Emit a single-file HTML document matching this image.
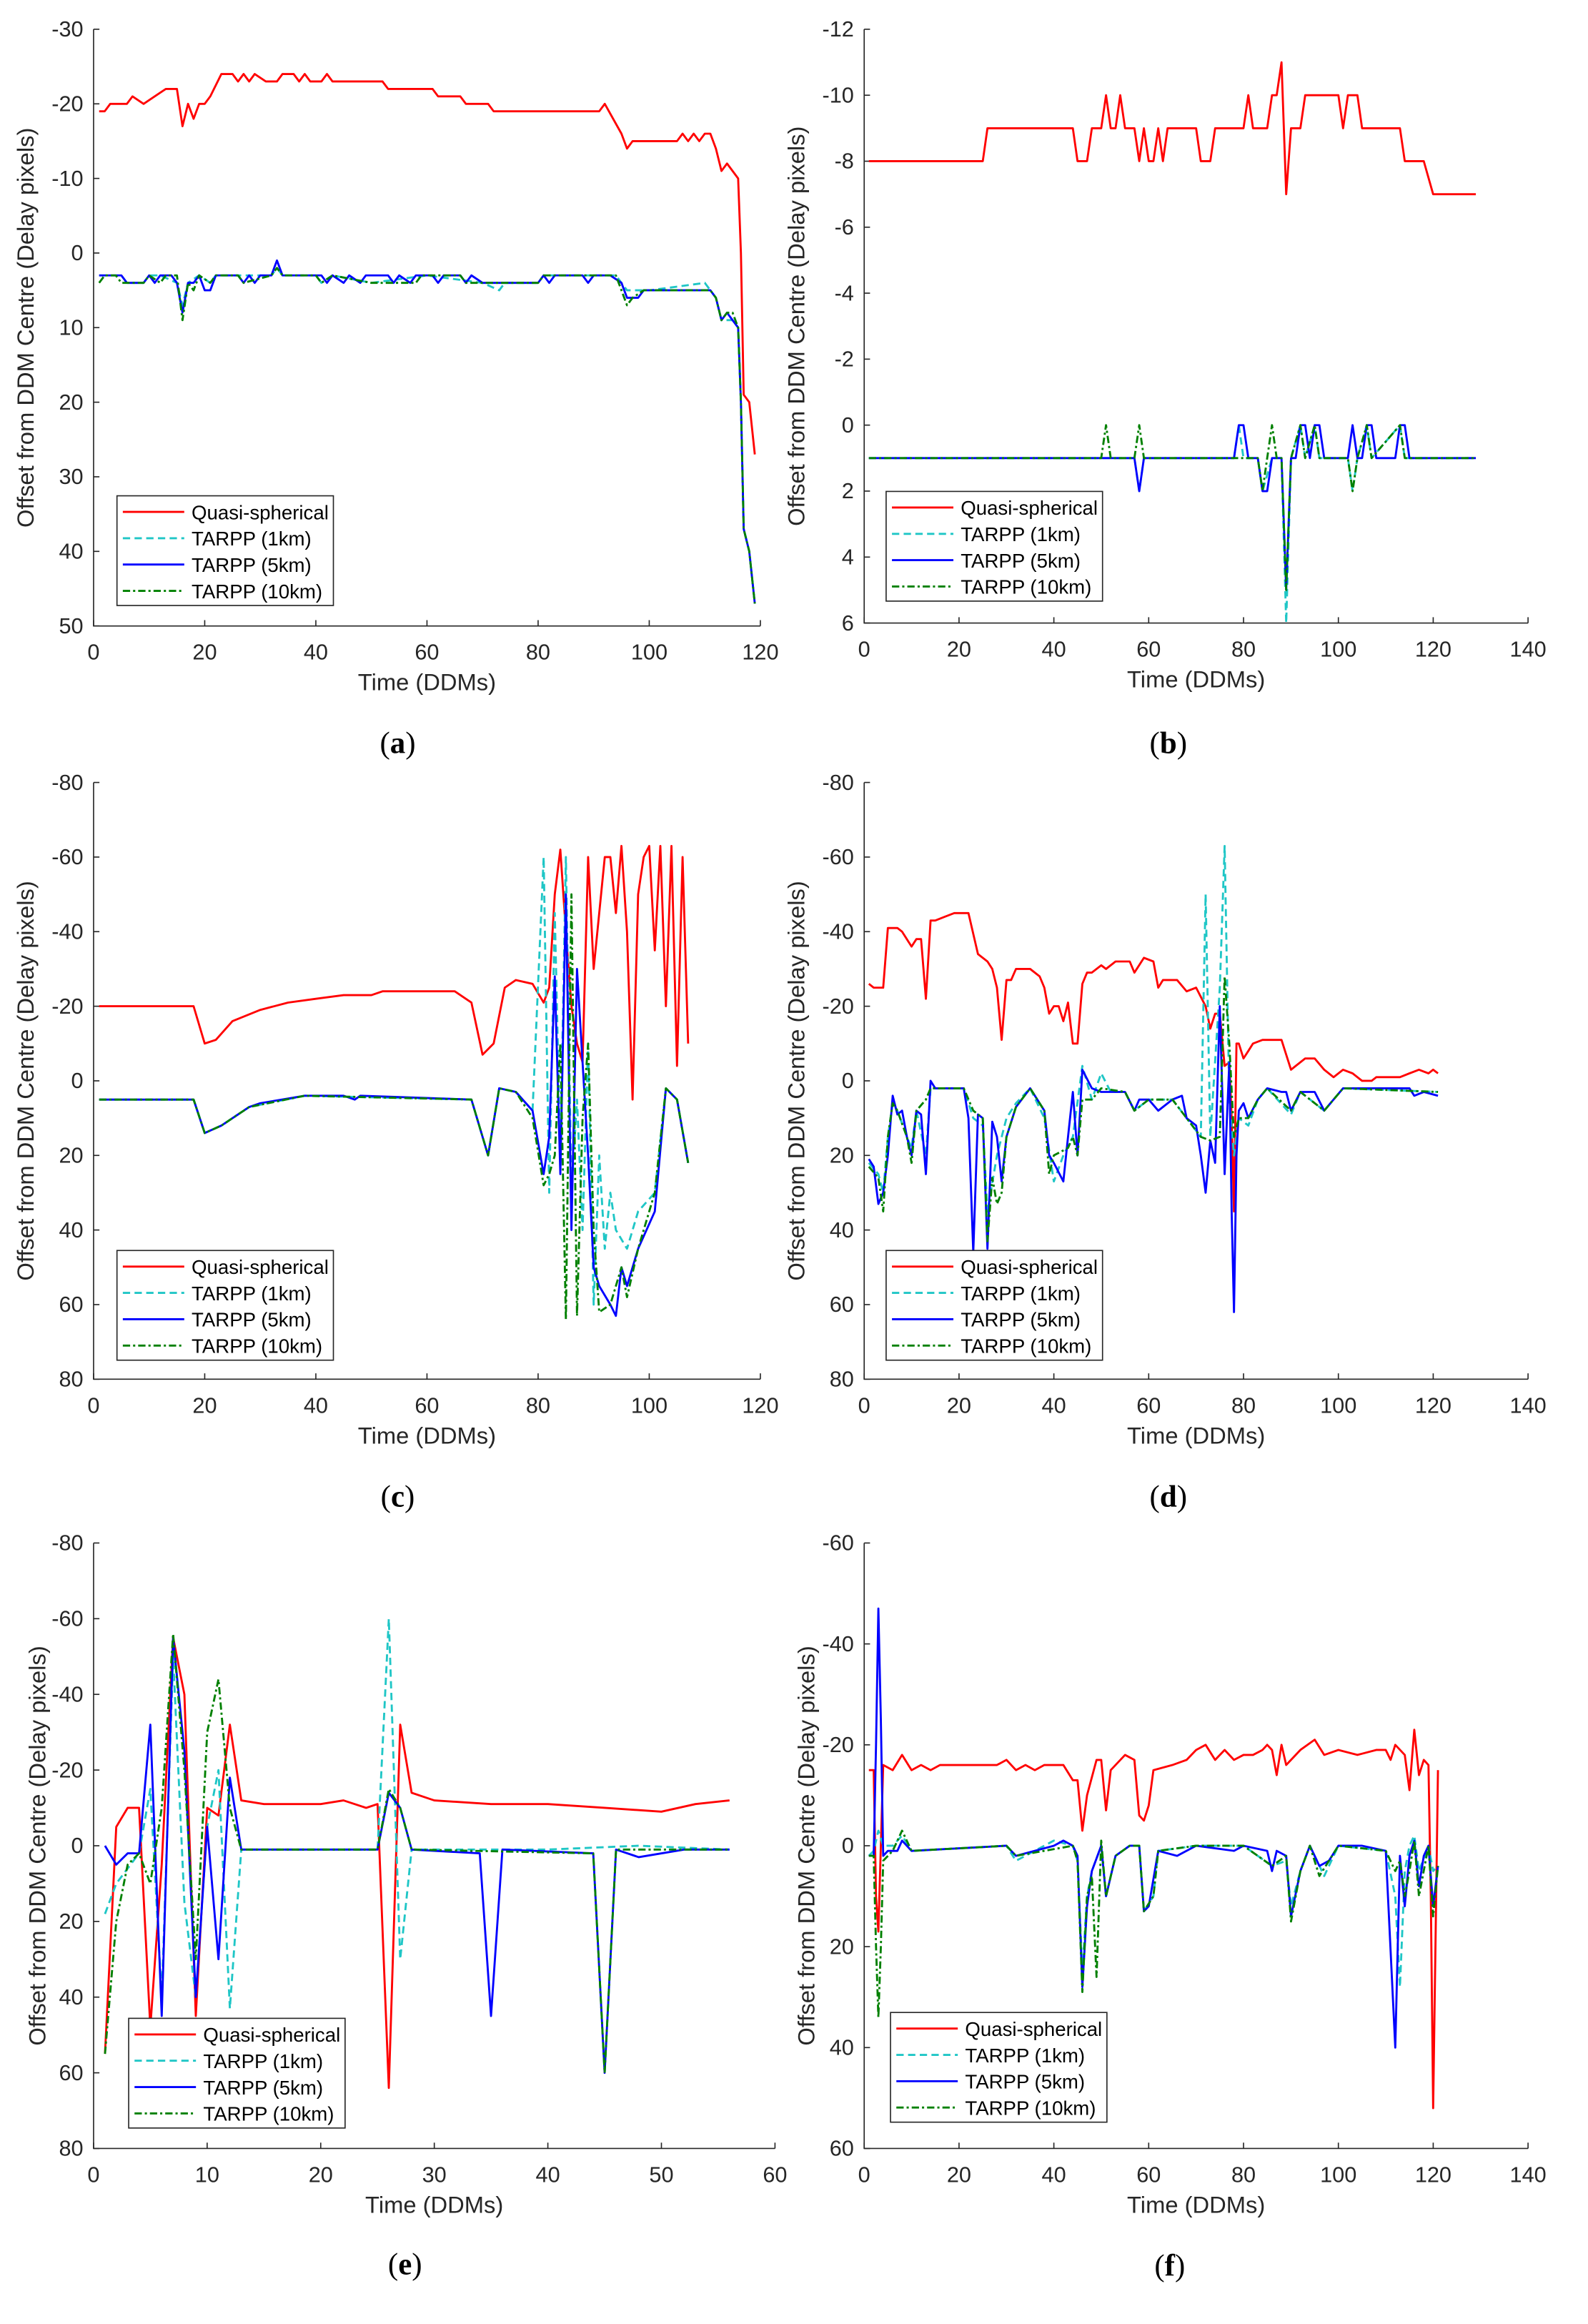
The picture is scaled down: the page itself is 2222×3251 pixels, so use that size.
<!DOCTYPE html>
<html><head><meta charset="utf-8"><style>
html,body{margin:0;padding:0;background:#fff;}
svg{display:block;}
</style></head><body>
<svg id="s" xmlns="http://www.w3.org/2000/svg" width="2222" height="3251" viewBox="0 0 1086 1589" preserveAspectRatio="none"></svg>
<script>
const S=document.getElementById('s');
let H='';
const P=[
{x0:64,x1:520,y0:20,y1:428,xr:[0,120],yr:[-30,50],xs:20,ys:10,yl:22,cap:'a',cx:272,cy:508,lg:[80,339],
R:[[1,-19],[2,-19],[3,-20],[6,-20],[7,-21],[9,-20],[11,-21],[13,-22],[15,-22],[16,-17],[17,-20],[18,-18],[19,-20],[20,-20],[21,-21],[23,-24],[25,-24],[26,-23],[27,-24],[28,-23],[29,-24],[31,-23],[33,-23],[34,-24],[36,-24],[37,-23],[38,-24],[39,-23],[41,-23],[42,-24],[43,-23],[52,-23],[53,-22],[61,-22],[62,-21],[66,-21],[67,-20],[71,-20],[72,-19],[91,-19],[92,-20],[95,-16],[96,-14],[97,-15],[105,-15],[106,-16],[107,-15],[108,-16],[109,-15],[110,-16],[111,-16],[112,-14],[113,-11],[114,-12],[116,-10],[116.5,0],[117,19],[118,20],[119,27]],
B:[[1,3],[5,3],[6,4],[9,4],[10,3],[11,4],[12,3],[14,3],[15,4],[16,8],[17,4],[18,4],[19,3],[20,5],[21,5],[22,3],[26,3],[27,4],[28,3],[29,4],[30,3],[32,3],[33,1],[34,3],[41,3],[42,4],[43,3],[45,4],[46,3],[48,4],[49,3],[53,3],[54,4],[55,3],[57,4],[58,3],[61,3],[62,4],[63,3],[66,3],[67,4],[68,3],[70,4],[80,4],[81,3],[82,4],[83,3],[88,3],[89,4],[90,3],[93,3],[95,4],[96,6],[98,6],[99,5],[111,5],[112,6],[113,9],[114,8],[115,9],[116,10],[116.5,20],[117,37],[118,40],[119,47]],
C:[[1,3],[5,3],[6,4],[9,4],[10,3],[12,3],[15,4],[16,7],[17,4],[19,3],[21,4],[22,3],[32,3],[33,2],[34,3],[40,3],[41,4],[43,3],[50,4],[60,3],[70,4],[73,5],[74,4],[80,4],[81,3],[94,3],[96,5],[98,5],[100,5],[105,4.5],[110,4],[111,5],[112,6],[113,9],[115,9],[116,10],[116.5,20],[117,37],[118,40],[119,47]],
G:[[1,4],[2,3],[4,3],[5,4],[9,4],[10,3],[12,4],[13,3],[15,3],[16,9],[17,4],[18,5],[19,3],[21,4],[22,3],[26,3],[27,4],[32,3],[33,2],[34,3],[40,3],[41,4],[43,3],[50,4],[58,4],[59,3],[66,3],[67,4],[70,4],[80,4],[81,3],[94,3],[96,7],[97,6],[99,5],[111,5],[112,6],[113,9],[114,8],[115,8],[116,10],[116.5,20],[117,37],[118,40],[119,47]]},
{x0:591,x1:1045,y0:20,y1:426,xr:[0,140],yr:[-12,6],xs:20,ys:2,yl:549,cap:'b',cx:799,cy:508,lg:[606,336],
R:[[1,-8],[25,-8],[26,-9],[44,-9],[45,-8],[47,-8],[48,-9],[50,-9],[51,-10],[52,-9],[53,-9],[54,-10],[55,-9],[57,-9],[58,-8],[59,-9],[60,-8],[61,-8],[62,-9],[63,-8],[64,-9],[70,-9],[71,-8],[73,-8],[74,-9],[80,-9],[81,-10],[82,-9],[85,-9],[86,-10],[87,-10],[88,-11],[89,-7],[90,-9],[92,-9],[93,-10],[100,-10],[101,-9],[102,-10],[104,-10],[105,-9],[108,-9],[113,-9],[114,-8],[118,-8],[120,-7],[129,-7]],
B:[[1,1],[57,1],[58,2],[59,1],[78,1],[79,0],[80,0],[81,1],[83,1],[84,2],[85,2],[86,1],[88,1],[89,5],[90,1],[91,1],[92,0],[93,0],[94,1],[95,0],[96,0],[97,1],[102,1],[103,0],[104,1],[105,1],[106,0],[107,0],[108,1],[112,1],[113,0],[114,0],[115,1],[129,1]],
C:[[1,1],[57,1],[58,2],[59,1],[78,1],[79,0],[80,1],[83,1],[84,2],[86,1],[88,1],[89,6],[90,1],[92,0],[93,1],[95,0],[96,1],[102,1],[103,2],[104,1],[106,0],[107,1],[113,0],[114,1],[129,1]],
G:[[1,1],[50,1],[51,0],[52,1],[57,1],[58,0],[59,1],[80,1],[83,1],[84,2],[85,1],[86,0],[87,1],[88,1],[89,5],[90,1],[92,0],[93,1],[95,0],[96,1],[102,1],[103,2],[104,1],[106,0],[107,1],[113,0],[114,1],[129,1]]},
{x0:64,x1:520,y0:535,y1:943,xr:[0,120],yr:[-80,80],xs:20,ys:20,yl:22,cap:'c',cx:272,cy:1023,lg:[80,855],
R:[[1,-20],[18,-20],[20,-10],[22,-11],[25,-16],[30,-19],[35,-21],[40,-22],[45,-23],[50,-23],[52,-24],[65,-24],[68,-21],[70,-7],[72,-10],[74,-25],[76,-27],[79,-26],[81,-21],[82,-25],[83,-50],[84,-62],[85,-40],[86,-20],[87,-10],[88,-5],[89,-60],[90,-30],[91,-45],[92,-60],[93,-60],[94,-45],[95,-63],[96,-40],[97,5],[98,-50],[99,-60],[100,-63],[101,-35],[102,-63],[103,-20],[104,-63],[105,-4],[106,-60],[107,-10]],
B:[[1,5],[18,5],[20,14],[23,12],[28,7],[30,6],[38,4],[45,4],[47,5],[48,4],[68,5],[71,20],[73,2],[76,3],[79,8],[81,25],[82,15],[83,-28],[84,25],[85,-50],[86,40],[87,-30],[88,-5],[89,20],[90,50],[91,55],[93,60],[94,63],[95,50],[96,55],[98,45],[101,35],[103,2],[105,5],[107,22]],
C:[[1,5],[18,5],[20,14],[23,12],[28,7],[38,4],[68,5],[71,20],[73,2],[76,3],[79,8],[81,-60],[82,30],[83,-45],[84,20],[85,-60],[86,30],[87,5],[88,40],[89,-10],[90,60],[91,20],[92,45],[93,30],[94,40],[96,45],[98,35],[101,30],[103,2],[105,5],[107,22]],
G:[[1,5],[18,5],[20,14],[23,12],[28,7],[38,4],[68,5],[71,20],[73,2],[76,3],[79,10],[81,28],[82,25],[83,20],[84,-10],[85,64],[86,-50],[87,63],[88,10],[89,-10],[90,40],[91,62],[93,60],[95,50],[96,58],[98,45],[101,30],[103,2],[105,5],[107,22]]},
{x0:591,x1:1045,y0:535,y1:943,xr:[0,140],yr:[-80,80],xs:20,ys:20,yl:549,cap:'d',cx:799,cy:1023,lg:[606,855],
R:[[1,-26],[2,-25],[4,-25],[5,-41],[7,-41],[8,-40],[10,-36],[11,-38],[12,-38],[13,-22],[14,-43],[15,-43],[17,-44],[19,-45],[22,-45],[24,-34],[26,-32],[27,-30],[28,-25],[29,-11],[30,-27],[31,-27],[32,-30],[35,-30],[37,-28],[38,-25],[39,-18],[40,-20],[41,-20],[42,-16],[43,-21],[44,-10],[45,-10],[46,-26],[47,-29],[48,-29],[50,-31],[51,-30],[53,-32],[56,-32],[57,-29],[59,-33],[61,-32],[62,-25],[63,-27],[66,-27],[68,-24],[70,-25],[72,-20],[73,-14],[74,-18],[75,-18],[76,-4],[77,-5],[77.5,10],[78,35],[78.5,-10],[79,-10],[80,-6],[81,-8],[82,-10],[84,-11],[88,-11],[89,-7],[90,-3],[91,-4],[93,-6],[95,-6],[97,-3],[99,-1],[101,-3],[103,-2],[105,0],[107,0],[108,-1],[113,-1],[115,-2],[117,-3],[119,-2],[120,-3],[121,-2]],
B:[[1,21],[2,23],[3,33],[4,30],[5,20],[6,4],[7,9],[8,8],[9,15],[10,20],[11,8],[12,9],[13,25],[14,0],[15,2],[17,2],[21,2],[22,10],[23,46],[24,9],[25,10],[26,45],[27,11],[28,15],[29,27],[30,15],[32,7],[35,2],[38,8],[39,20],[40,22],[42,27],[43,15],[44,3],[45,20],[46,-3],[48,2],[50,3],[55,3],[57,8],[58,5],[60,5],[62,8],[65,5],[67,4],[68,10],[70,12],[71,20],[72,30],[73,16],[74,22],[75,-20],[76,25],[77,-5],[77.5,35],[78,62],[78.5,20],[79,8],[80,6],[81,10],[83,5],[85,2],[88,3],[89,3],[90,8],[92,3],[95,3],[97,8],[99,5],[101,2],[110,2],[115,2],[116,4],[118,3],[121,4]],
C:[[1,22],[3,25],[4,30],[5,15],[6,6],[7,8],[9,15],[10,18],[11,8],[13,20],[14,2],[17,2],[21,2],[23,10],[25,12],[26,35],[28,20],[30,10],[32,6],[35,2],[38,10],[40,27],[42,20],[44,15],[46,-4],[48,5],[50,-2],[52,3],[55,3],[57,8],[60,5],[65,5],[68,10],[71,15],[72,-50],[73,15],[75,-25],[76,-63],[77,5],[78,20],[79,10],[81,12],[83,5],[85,2],[90,9],[92,3],[97,8],[101,2],[121,3]],
G:[[1,23],[3,26],[4,35],[5,15],[6,6],[7,8],[9,15],[10,22],[11,8],[13,5],[14,2],[17,2],[21,2],[23,8],[25,10],[26,43],[27,26],[28,33],[29,30],[30,15],[32,7],[35,2],[38,8],[39,25],[40,20],[43,18],[44,15],[45,20],[46,5],[48,5],[50,2],[55,3],[57,8],[60,5],[65,5],[68,10],[71,15],[73,16],[75,15],[76,-28],[77,-10],[78,15],[79,10],[81,10],[83,5],[85,2],[90,8],[92,3],[97,8],[101,2],[121,3]]},
{x0:64,x1:530,y0:1055,y1:1469,xr:[0,60],yr:[-80,80],xs:10,ys:20,yl:30,cap:'e',cx:277,cy:1548,lg:[88,1380],
R:[[1,55],[2,-5],[3,-10],[4,-10],[5,48],[6,5],[7,-55],[8,-40],[9,45],[10,-10],[11,-8],[12,-32],[13,-12],[15,-11],[20,-11],[22,-12],[24,-10],[25,-11],[26,64],[27,-32],[28,-14],[30,-12],[35,-11],[40,-11],[45,-10],[50,-9],[53,-11],[56,-12]],
B:[[1,0],[2,5],[3,2],[4,2],[5,-32],[6,45],[7,-55],[8,-25],[9,40],[10,-5],[11,30],[12,-18],[13,1],[25,1],[26,-14],[27,-10],[28,1],[34,2],[35,45],[36,1],[44,2],[45,60],[46,1],[48,3],[52,1],[56,1]],
C:[[1,18],[2,10],[4,2],[5,-15],[6,40],[7,-50],[8,15],[9,40],[10,-5],[11,-20],[12,43],[13,1],[25,1],[26,-60],[27,30],[28,1],[40,1],[48,0],[56,1]],
G:[[1,55],[2,20],[3,5],[4,2],[5,10],[6,-10],[7,-56],[8,-20],[9,30],[10,-30],[11,-44],[12,-10],[13,1],[25,1],[26,-15],[27,-10],[28,1],[44,2],[45,60],[46,1],[56,1]]},
{x0:591,x1:1045,y0:1055,y1:1469,xr:[0,140],yr:[-60,60],xs:20,ys:20,yl:556,cap:'f',cx:800,cy:1549,lg:[609,1376],
R:[[1,-15],[2,-15],[2.5,10],[3,17],[4,-16],[6,-15],[8,-18],[10,-15],[12,-16],[14,-15],[16,-16],[28,-16],[30,-17],[32,-15],[34,-16],[36,-15],[38,-16],[42,-16],[44,-13],[45,-13],[46,-3],[47,-10],[49,-17],[50,-17],[51,-7],[52,-15],[55,-18],[57,-17],[58,-6],[59,-5],[60,-8],[61,-15],[65,-16],[68,-17],[70,-19],[72,-20],[74,-17],[76,-19],[78,-17],[80,-18],[82,-18],[84,-19],[85,-20],[86,-19],[87,-14],[88,-20],[89,-16],[92,-19],[95,-21],[97,-18],[100,-19],[104,-18],[108,-19],[110,-19],[111,-17],[112,-20],[114,-18],[115,-11],[116,-23],[117,-14],[118,-17],[119,-16],[119.5,10],[120,52],[121,-15]],
B:[[1,2],[2,2],[2.5,-20],[3,-47],[3.5,-25],[4,2],[5,1],[7,1],[8,-1],[10,1],[30,0],[32,2],[40,0],[42,-1],[44,0],[45,2],[46,28],[47,12],[48,5],[50,0],[51,10],[53,2],[56,0],[58,0],[59,13],[60,12],[62,1],[66,2],[70,0],[78,1],[80,0],[85,1],[86,5],[87,1],[89,2],[90,14],[92,5],[94,0],[96,4],[98,3],[100,0],[105,0],[110,1],[112,40],[113,2],[114,12],[115,2],[116,-1],[117,8],[118,2],[119,0],[120,12],[121,4]],
C:[[1,2],[2,1],[3,-3],[4,0],[6,0],[8,-2],[10,1],[30,0],[32,3],[40,-1],[44,0],[45,3],[46,25],[47,10],[48,5],[50,0],[51,10],[53,2],[56,0],[58,0],[59,13],[61,10],[62,1],[70,0],[80,0],[86,4],[89,3],[90,12],[92,5],[94,0],[97,6],[100,0],[110,1],[112,10],[113,28],[114,5],[115,0],[116,-2],[117,5],[119,0],[120,5],[121,4]],
G:[[1,2],[2,2],[2.5,20],[3,34],[3.5,20],[4,3],[6,1],[8,-3],[10,1],[30,0],[32,2],[44,0],[45,3],[46,29],[47,10],[48,6],[49,26],[50,-1],[51,10],[53,2],[56,0],[58,0],[59,13],[61,10],[62,1],[70,0],[80,0],[86,4],[89,2],[90,15],[92,5],[94,0],[96,6],[100,0],[110,1],[112,5],[113,3],[114,10],[115,5],[116,-1],[117,10],[119,0],[120,14],[121,4]]}
];
const FONT='font-family="Liberation Sans, Arial, sans-serif"';
for(const p of P){
  const X=v=>p.x0+(v-p.xr[0])/(p.xr[1]-p.xr[0])*(p.x1-p.x0);
  const Y=v=>p.y0+(v-p.yr[0])/(p.yr[1]-p.yr[0])*(p.y1-p.y0);
  H+=`<path d="M${p.x0} ${p.y0}V${p.y1}H${p.x1}" fill="none" stroke="#262626" stroke-width="0.8"/>`;
  for(let v=p.xr[0];v<=p.xr[1]+1e-9;v+=p.xs){const x=X(v);H+=`<line x1="${x}" y1="${p.y1}" x2="${x}" y2="${p.y1-4}" stroke="#262626" stroke-width="0.8"/><text x="${x}" y="${p.y1+23}" font-size="15" fill="#262626" text-anchor="middle" ${FONT}>${v}</text>`;}
  for(let v=p.yr[0];v<=p.yr[1]+1e-9;v+=p.ys){const y=Y(v);H+=`<line x1="${p.x0}" y1="${y}" x2="${p.x0+4}" y2="${y}" stroke="#262626" stroke-width="0.8"/><text x="${p.x0-7}" y="${y+5}" font-size="15" fill="#262626" text-anchor="end" ${FONT}>${Math.round(v*10)/10}</text>`;}
  H+=`<text x="${(p.x0+p.x1)/2}" y="${p.y1+44}" font-size="16" fill="#262626" text-anchor="middle" ${FONT}>Time (DDMs)</text>`;
  const my=(p.y0+p.y1)/2;
  H+=`<text transform="translate(${p.yl+1},${my}) rotate(-90)" font-size="16" fill="#262626" text-anchor="middle" ${FONT}>Offset from DDM Centre (Delay pixels)</text>`;
  const pl=(d,c,da,w)=>`<polyline points="${d.map(q=>X(q[0]).toFixed(1)+','+Y(q[1]).toFixed(1)).join(' ')}" fill="none" stroke="${c}" stroke-width="${w}" ${da?`stroke-dasharray="${da}"`:''} stroke-linejoin="round"/>`;
  H+=pl(p.R,'#ff0000','',1.4)+pl(p.C,'#1fc6c6','5,3',1.4)+pl(p.B,'#0000ff','',1.4)+pl(p.G,'#008000','5,2,1.5,2',1.4);
  const [lx,ly]=p.lg;
  H+=`<rect x="${lx}" y="${ly}" width="148" height="75" fill="#fff" stroke="#262626" stroke-width="0.8"/>`;
  const L=[['Quasi-spherical','#ff0000',''],['TARPP (1km)','#1fc6c6','5,3'],['TARPP (5km)','#0000ff',''],['TARPP (10km)','#008000','5,2,1.5,2']];
  L.forEach((e,i)=>{const yy=ly+11+i*18;H+=`<line x1="${lx+4}" y1="${yy}" x2="${lx+46}" y2="${yy}" stroke="${e[1]}" stroke-width="1.4" ${e[2]?`stroke-dasharray="${e[2]}"`:''}/><text x="${lx+51}" y="${yy+5}" font-size="13.5" fill="#000" ${FONT}>${e[0]}</text>`;});
  H+=`<text x="${p.cx}" y="${p.cy+7}" font-size="21" text-anchor="middle" font-family="Liberation Serif, serif" fill="#000">(<tspan font-weight="bold">${p.cap}</tspan>)</text>`;
}
S.innerHTML=H;
</script>
</body></html>
